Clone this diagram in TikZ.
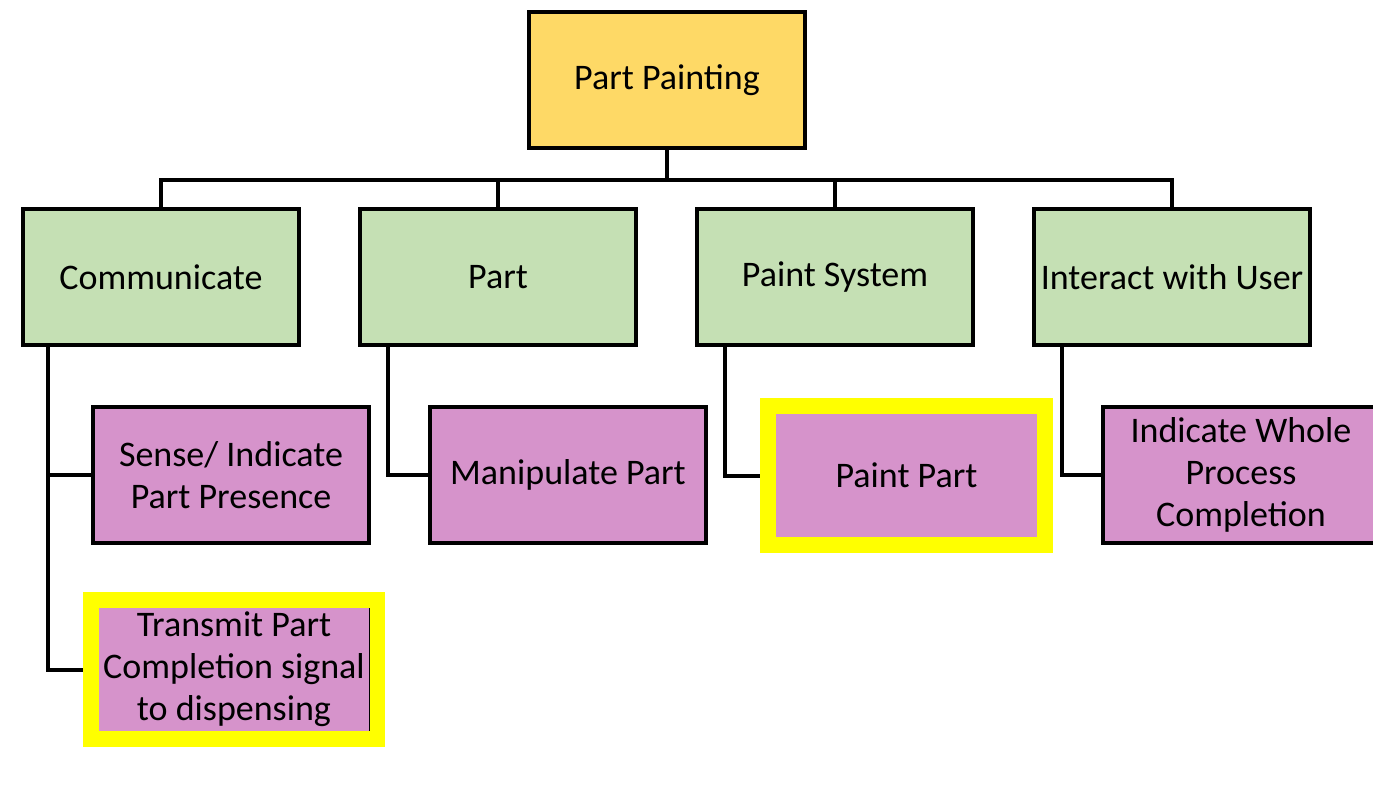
\documentclass[tikz,border=0pt]{standalone}
\usepackage{fontspec}
\setmainfont{Carlito}
\begin{document}
\begin{tikzpicture}[x=1pt,y=-1pt,
  box/.style={draw=black, line width=4pt, minimum width=276pt, minimum height=136pt,
    inner sep=0pt, align=center, font=\fontsize{36}{42}\selectfont},
  rootbox/.style={box, fill=rootgold},
  groupbox/.style={box, fill=groupgreen},
  taskbox/.style={box, fill=taskpurple},
  hilite/.style={taskbox, draw=hiyellow, line width=16pt, minimum width=277pt, minimum height=139pt},
  link/.style={draw=black, line width=4pt}]
\definecolor{rootgold}{HTML}{FED966}
\definecolor{groupgreen}{HTML}{C5E0B4}
\definecolor{taskpurple}{HTML}{D693CB}
\definecolor{hiyellow}{HTML}{FFFF00}
\useasboundingbox[fill=white] (0,0) rectangle (1373,799);

% top level
\node[rootbox] (root) at (667,80) {Part Painting};

% functional groups
\node[groupbox] (g1) at (161,277) {Communicate};
\node[groupbox] (g2) at (498,277) {Part};
\node[groupbox] (g3) at (835,277) {Paint System};
\node[groupbox] (g4) at (1172,277) {Interact with User};

% tasks
\node[taskbox] (t1) at (231,475) {Sense/ Indicate\\Part Presence};
\node[taskbox] (t2) at (568,475) {Manipulate Part};
\node[hilite] (t3) at (906.5,475.5) {Paint Part};
\node[taskbox] (t4) at (1241,475) {Indicate Whole\\Process\\Completion};
\node[hilite, minimum width=286pt] (t5) at (234,669.5) {Transmit Part\\Completion signal\\to dispensing};
\draw[black, line width=1pt] (369,608) -- (369,731);

% bus from the top box to the groups
\coordinate (bus) at (0,180);
\draw[link] (root.south) -- (root.south |- bus);
\draw[link] (g1.north) |- (g4.north |- bus) -- (g4.north);
\draw[link] (g2.north) -- (g2.north |- bus);
\draw[link] (g3.north) -- (g3.north |- bus);

% group-to-task links
\draw[link] ([xshift=-113pt]g1.south) |- (t5.west);
\draw[link] ([xshift=-113pt]g1.south |- t1.west) -- (t1.west);
\draw[link] ([xshift=-110pt]g2.south) |- (t2.west);
\draw[link] ([xshift=-110pt]g3.south) |- (t3.west);
\draw[link] ([xshift=-110pt]g4.south) |- (t4.west);
\end{tikzpicture}
\end{document}
